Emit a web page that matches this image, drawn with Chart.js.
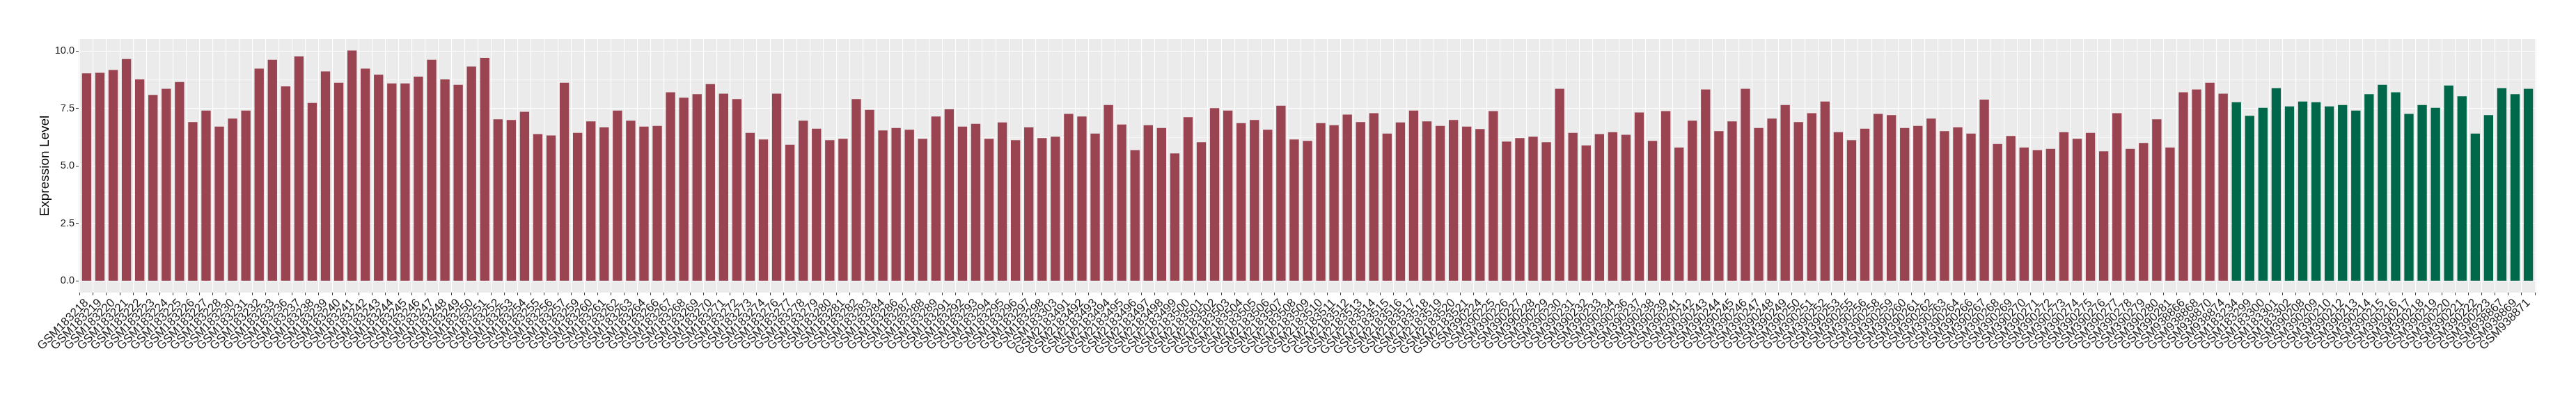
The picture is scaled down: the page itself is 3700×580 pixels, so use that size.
<!DOCTYPE html>
<html>
<head>
<meta charset="utf-8">
<script src="https://cdn.jsdelivr.net/npm/chart.js@4.4.1/dist/chart.umd.min.js"></script>
<style>
  html, body { margin: 0; padding: 0; background: #ffffff; }
  #wrap { width: 3700px; height: 580px; position: relative; }
</style>
</head>
<body>
<div id="wrap"><canvas id="chart"></canvas></div>
<script>
// samples in the first (red) group
const redSamples = [
    "GSM183218", "GSM183219", "GSM183220", "GSM183221", "GSM183222", "GSM183223", "GSM183224", "GSM183225", "GSM183226", "GSM183227",
    "GSM183228", "GSM183230", "GSM183231", "GSM183232", "GSM183233", "GSM183236", "GSM183237", "GSM183238", "GSM183239", "GSM183240",
    "GSM183241", "GSM183242", "GSM183243", "GSM183244", "GSM183245", "GSM183246", "GSM183247", "GSM183248", "GSM183249", "GSM183250",
    "GSM183251", "GSM183252", "GSM183253", "GSM183254", "GSM183255", "GSM183256", "GSM183257", "GSM183259", "GSM183260", "GSM183261",
    "GSM183262", "GSM183263", "GSM183264", "GSM183266", "GSM183267", "GSM183268", "GSM183269", "GSM183270", "GSM183271", "GSM183272",
    "GSM183273", "GSM183274", "GSM183276", "GSM183277", "GSM183278", "GSM183279", "GSM183280", "GSM183281", "GSM183282", "GSM183283",
    "GSM183284", "GSM183286", "GSM183287", "GSM183288", "GSM183289", "GSM183291", "GSM183292", "GSM183293", "GSM183294", "GSM183295",
    "GSM183296", "GSM183297", "GSM183298", "GSM183303", "GSM2183491", "GSM2183492", "GSM2183493", "GSM2183494", "GSM2183495", "GSM2183496",
    "GSM2183497", "GSM2183498", "GSM2183499", "GSM2183500", "GSM2183501", "GSM2183502", "GSM2183503", "GSM2183504", "GSM2183505", "GSM2183506",
    "GSM2183507", "GSM2183508", "GSM2183509", "GSM2183510", "GSM2183511", "GSM2183512", "GSM2183513", "GSM2183514", "GSM2183515", "GSM2183516",
    "GSM2183517", "GSM2183518", "GSM2183519", "GSM2183520", "GSM2183521", "GSM390224", "GSM390225", "GSM390226", "GSM390227", "GSM390228",
    "GSM390229", "GSM390230", "GSM390231", "GSM390232", "GSM390233", "GSM390234", "GSM390236", "GSM390237", "GSM390238", "GSM390239",
    "GSM390241", "GSM390242", "GSM390243", "GSM390244", "GSM390245", "GSM390246", "GSM390247", "GSM390248", "GSM390249", "GSM390250",
    "GSM390251", "GSM390252", "GSM390253", "GSM390255", "GSM390256", "GSM390258", "GSM390259", "GSM390260", "GSM390261", "GSM390262",
    "GSM390263", "GSM390264", "GSM390266", "GSM390267", "GSM390268", "GSM390269", "GSM390270", "GSM390271", "GSM390272", "GSM390273",
    "GSM390274", "GSM390275", "GSM390276", "GSM390277", "GSM390278", "GSM390279", "GSM390280", "GSM390281", "GSM938866", "GSM938868",
    "GSM938870", "GSM938874"
];
const redValues = [
    9.04, 9.06, 9.18, 9.66, 8.77, 8.10, 8.36, 8.66, 6.92, 7.42,
    6.72, 7.07, 7.42, 9.24, 9.63, 8.47, 9.77, 7.75, 9.12, 8.63,
    10.03, 9.24, 8.98, 8.60, 8.60, 8.89, 9.63, 8.77, 8.54, 9.33,
    9.71, 7.04, 7.01, 7.36, 6.39, 6.33, 8.63, 6.45, 6.95, 6.69,
    7.42, 6.98, 6.72, 6.75, 8.21, 7.98, 8.13, 8.57, 8.15, 7.92,
    6.45, 6.16, 8.15, 5.93, 6.98, 6.63, 6.13, 6.19, 7.92, 7.45,
    6.55, 6.66, 6.58, 6.19, 7.16, 7.48, 6.72, 6.84, 6.19, 6.90,
    6.13, 6.69, 6.22, 6.28, 7.27, 7.16, 6.42, 7.66, 6.81, 5.70,
    6.78, 6.66, 5.55, 7.13, 6.04, 7.52, 7.42, 6.87, 7.01, 6.58,
    7.63, 6.16, 6.10, 6.87, 6.78, 7.24, 6.92, 7.30, 6.42, 6.90,
    7.42, 6.95, 6.75, 7.01, 6.72, 6.61, 7.39, 6.07, 6.22, 6.28,
    6.04, 8.36, 6.45, 5.90, 6.39, 6.48, 6.36, 7.33, 6.10, 7.39,
    5.81, 6.98, 8.33, 6.52, 6.95, 8.36, 6.66, 7.07, 7.66, 6.92,
    7.30, 7.81, 6.48, 6.13, 6.63, 7.27, 7.22, 6.66, 6.75, 7.07,
    6.52, 6.69, 6.42, 7.89, 5.96, 6.31, 5.81, 5.70, 5.75, 6.48,
    6.19, 6.45, 5.64, 7.30, 5.75, 6.01, 7.04, 5.81, 8.21, 8.33,
    8.63, 8.15
];

// samples in the second (green) group
const greenSamples = [
    "GSM183234", "GSM183299", "GSM183300", "GSM183301", "GSM183302", "GSM390208", "GSM390209", "GSM390210", "GSM390212", "GSM390213",
    "GSM390214", "GSM390215", "GSM390216", "GSM390217", "GSM390218", "GSM390219", "GSM390220", "GSM390221", "GSM390222", "GSM390223",
    "GSM938867", "GSM938869", "GSM938871"
];
const greenValues = [
    7.78, 7.19, 7.54, 8.39, 7.60, 7.81, 7.78, 7.60, 7.66, 7.42,
    8.13, 8.54, 8.21, 7.27, 7.66, 7.54, 8.51, 8.04, 6.42, 7.22,
    8.39, 8.13, 8.36
];

const yTicks = [0, 2.5, 5, 7.5, 10];

const RED = "#9A4351";
const GREEN = "#00684A";

const samples = redSamples.concat(greenSamples);
const values = redValues.concat(greenValues);
const colors = redSamples.map(() => RED).concat(greenSamples.map(() => GREEN));
const points = values.map((v, i) => ({ x: i, y: v }));

// grey ggplot-like panel behind the grid
const panelBackground = {
    id: "panelBackground",
    beforeDraw(chart) {
        const { ctx, chartArea } = chart;
        ctx.save();
        ctx.fillStyle = "#EBEBEB";
        ctx.fillRect(chartArea.left, chartArea.top, chartArea.right - chartArea.left, chartArea.bottom - chartArea.top);
        ctx.restore();
    }
};

const isMajor = (v) => yTicks.includes(v);

new Chart(document.getElementById("chart"), {
    type: "bar",
    data: {
        datasets: [{
            data: points,
            backgroundColor: colors,
            borderWidth: 0,
            barPercentage: 0.7,
            categoryPercentage: 1.0
        }]
    },
    plugins: [panelBackground],
    options: {
        responsive: true,
        maintainAspectRatio: false,
        animation: false,
        layout: { padding: { left: 0, right: 57, top: 56, bottom: 0 } },
        plugins: {
            legend: { display: false },
            tooltip: { enabled: false }
        },
        scales: {
            x: {
                type: "linear",
                offset: false,
                min: -0.6,
                max: samples.length - 1 + 0.6,
                afterFit: (s) => { s.height = 160; },
                border: { display: false },
                grid: {
                    color: "#FFFFFF",
                    lineWidth: 1.1,
                    drawTicks: true,
                    tickLength: 4,
                    tickColor: "#333333",
                    tickWidth: 1
                },
                ticks: {
                    stepSize: 1,
                    includeBounds: false,
                    autoSkip: false,
                    minRotation: 45,
                    maxRotation: 45,
                    padding: 1,
                    color: "#1A1A1A",
                    font: { family: "'Liberation Sans', Arial, sans-serif", size: 17 },
                    callback: (v) => (Number.isInteger(v) && samples[v]) ? samples[v] : ""
                }
            },
            y: {
                type: "linear",
                min: -0.5,
                max: 10.53,
                afterFit: (s) => { s.width = 113; },
                border: { display: false },
                grid: {
                    color: "#FFFFFF",
                    lineWidth: (c) => isMajor(c.tick.value) ? 1.1 : 0.55,
                    drawTicks: true,
                    tickLength: 4,
                    tickColor: (c) => isMajor(c.tick.value) ? "#333333" : "rgba(0,0,0,0)",
                    tickWidth: 1
                },
                ticks: {
                    stepSize: 1.25,
                    includeBounds: false,
                    padding: 2,
                    color: "#1A1A1A",
                    font: { family: "'Liberation Sans', Arial, sans-serif", size: 14.5 },
                    callback: (v) => isMajor(v) ? v.toFixed(1) : ""
                },
                title: {
                    display: true,
                    text: "Expression Level",
                    color: "#000000",
                    padding: { top: 53, bottom: 0 },
                    font: { family: "'Liberation Sans', Arial, sans-serif", size: 19 }
                }
            }
        }
    }
});
</script>
</body>
</html>
